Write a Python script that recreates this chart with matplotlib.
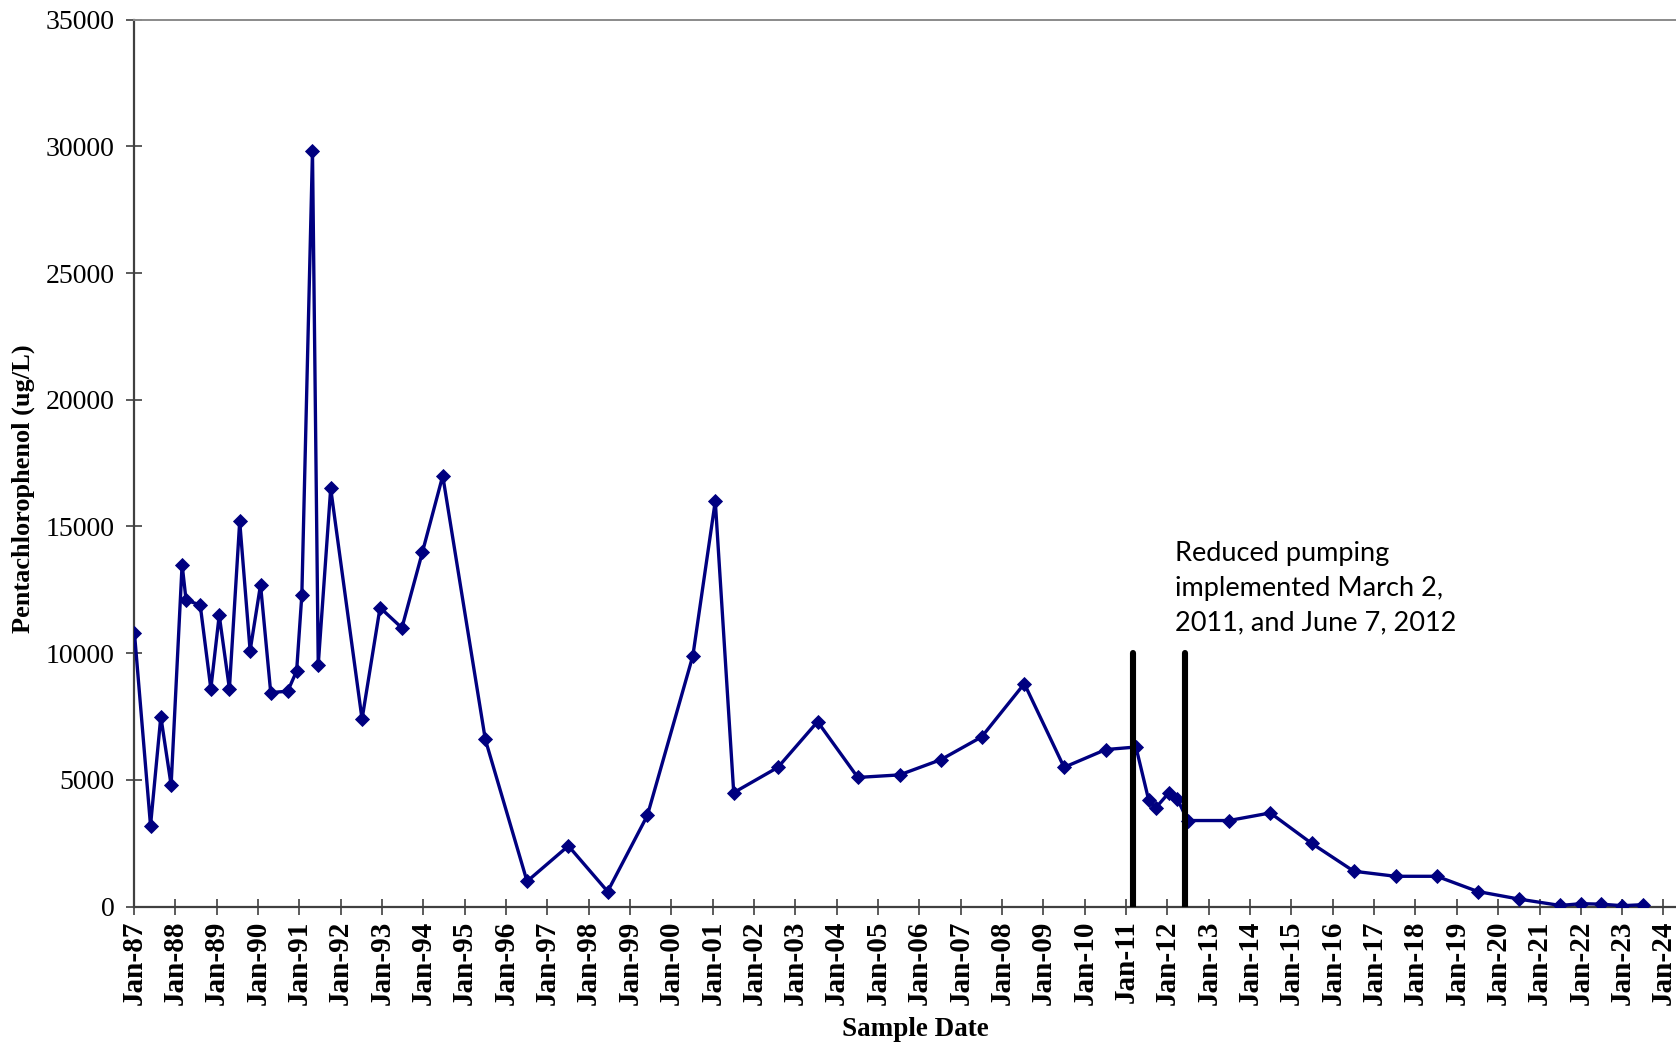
import matplotlib
matplotlib.use("Agg")
import matplotlib.pyplot as plt
import matplotlib.dates as mdates
import numpy as np
import pandas as pd

# Sampling dates and pentachlorophenol concentrations (ug/L)
sample_dates = [
    "1987-01-05", "1987-05-27", "1987-08-26", "1987-11-25", "1988-03-01",
    "1988-04-05", "1988-08-08", "1988-11-10", "1989-01-23", "1989-04-23",
    "1989-07-23", "1989-10-23", "1990-01-23", "1990-04-23", "1990-09-20",
    "1990-12-08", "1991-01-23", "1991-04-27", "1991-06-17", "1991-10-05",
    "1992-07-08", "1992-12-14", "1993-06-25", "1993-12-24", "1994-06-21",
    "1995-07-02", "1996-07-05", "1997-07-05", "1998-06-17", "1999-06-03",
    "2000-07-09", "2001-01-23", "2001-07-05", "2002-07-31", "2003-07-16",
    "2004-07-05", "2005-07-09", "2006-07-09", "2007-07-05", "2008-07-16",
    "2009-07-02", "2010-07-05", "2011-03-29", "2011-07-20", "2011-09-20",
    "2012-01-15", "2012-03-29", "2012-06-28", "2013-06-28", "2014-06-28",
    "2015-06-28", "2016-07-05", "2017-07-09", "2018-07-09", "2019-07-05",
    "2020-07-05", "2021-07-02", "2022-01-05", "2022-07-02", "2023-01-01",
    "2023-07-02",
]
pcp_values = [
    10800, 3200, 7500, 4800, 13500,
    12100, 11900, 8600, 11500, 8600,
    15200, 10100, 12700, 8450, 8500,
    9300, 12300, 29800, 9550, 16500,
    7400, 11800, 11000, 14000, 17000,
    6600, 1000, 2400, 600, 3600,
    9900, 16000, 4500, 5500, 7300,
    5100, 5200, 5800, 6700, 8800,
    5500, 6200, 6300, 4200, 3900,
    4500, 4250, 3400, 3400, 3700,
    2500, 1400, 1200, 1200, 600,
    300, 50, 120, 100, 40,
    80,
]

# Dates when reduced pumping was put in place, and the height of their markers
pumping_change_dates = ["2011-03-02", "2012-06-07"]
pumping_marker_top = 10000

annotation_text = "Reduced pumping\nimplemented March 2,\n2011, and June 7, 2012"

x_start, x_end = "1987-01-01", "2024-04-20"

dates = pd.to_datetime(sample_dates)
change_dates = pd.to_datetime(pumping_change_dates)

fig = plt.figure(figsize=(16.76, 10.44), dpi=100)
ax = fig.add_axes([0.07995, 0.1315, 0.9200, 0.8498])

serif = "Liberation Serif"

ax.plot(dates, pcp_values, color="#000080", linewidth=2.4, marker="D",
        markersize=7.4, markeredgewidth=0.6, markeredgecolor="#000080",
        markerfacecolor="#000080", zorder=3)

for d in change_dates:
    ax.plot([d, d], [0, pumping_marker_top], color="black", linewidth=4.4,
            solid_capstyle="round", zorder=4)

ax.text(0.675, 0.412, annotation_text, transform=ax.transAxes, ha="left",
        va="top", fontsize=19.5, family="Lato", linespacing=1.47,
        color="black")

ax.set_xlim(pd.Timestamp(x_start), pd.Timestamp(x_end))
ax.set_ylim(0, 35000)
ax.set_yticks(np.arange(0, 35001, 5000))
ax.xaxis.set_major_locator(mdates.YearLocator(1, month=1, day=1))
ax.xaxis.set_major_formatter(mdates.DateFormatter("%b-%y"))

for lbl in ax.get_xticklabels():
    lbl.set_rotation(90)
    lbl.set_family(serif)
    lbl.set_fontweight("bold")
    lbl.set_fontsize(21)
for lbl in ax.get_yticklabels():
    lbl.set_family(serif)
    lbl.set_fontsize(20)

ax.tick_params(axis="both", direction="inout", length=11.5, width=1.2,
               color="#404040")
ax.tick_params(axis="x", pad=4)
ax.tick_params(axis="y", pad=8)

ax.spines["right"].set_visible(False)
ax.spines["left"].set_color("#404040")
ax.spines["left"].set_linewidth(1.6)
ax.spines["bottom"].set_color("#404040")
ax.spines["bottom"].set_linewidth(1.6)
ax.spines["top"].set_color("#8a8a8a")
ax.spines["top"].set_linewidth(1.4)

ax.set_ylabel("Pentachlorophenol (ug/L)", family=serif, fontweight="bold",
              fontsize=19, va="center")
ax.yaxis.set_label_coords(-0.0715, 0.471)
ax.set_xlabel("Sample Date", family=serif, fontweight="bold", fontsize=19.5,
              va="center")
ax.xaxis.set_label_coords(0.507, -0.138)

fig.savefig("out.png", dpi=100)
